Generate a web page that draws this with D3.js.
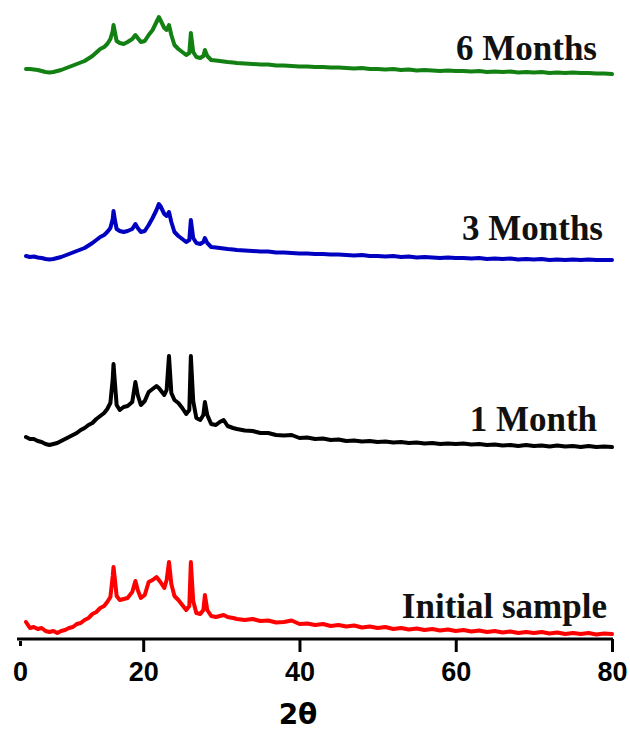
<!DOCTYPE html>
<html>
<head>
<meta charset="utf-8">
<script src="https://cdn.jsdelivr.net/npm/d3@7"></script>
<style>
  html, body { margin: 0; padding: 0; background: #ffffff; }
  svg { display: block; }
</style>
</head>
<body>
<svg id="chart" width="630" height="733"></svg>
<script>
// ---- data ----
const twoTheta = [5,5.5,6,6.5,7,7.5,8,8.5,9,9.5,10,10.5,11,11.5,12,12.5,13,13.5,14,14.5,15,
  15.4,15.8,16.1,16.2,16.4,16.6,17.0,17.5,18.0,18.6,
  19.0,19.3,19.7,20.2,20.7,21.2,21.7,22.0,22.2,22.7,
  23.0,23.3,23.6,24.0,24.5,25.0,25.5,25.9,26.1,26.4,
  26.8,27.3,27.7,27.9,28.2,28.7,29.3,29.8,30.3,30.8,
  31.5,
  32,33,34,35,36,37,38,39,40,41,42,43,44,45,46,47,48,49,50,51,52,53,54,55,56,57,58,59,60,
  61,62,63,64,65,66,67,68,69,70,71,72,73,74,75,76,77,78,79,80];

const initialSample = [34,22,24,20,22,16,14,16,12,16,18,22,24,30,32,38,42,50,54,62,66,
  74,84,126,144,116,86,78,80,82,94,
  116,98,82,88,114,118,124,118,114,102,
  118,154,110,86,78,68,58,66,154,76,
  52,50,58,88,58,46,44,46,48,44,
  42,
  40,38,40,36,37,33,34,37,30,31,28,30,26,28,25,27,23,25,22,24,20,22,19,21,18,20,17,19,16,18,
  15,17,14,16,13,15,12,14,12,14,11,13,10,12,10,12,9,11,10];

const oneMonth = [44,40,40,36,34,30,28,30,32,36,40,44,48,52,58,62,68,72,80,86,92,
  100,112,160,190,148,108,98,104,106,114,
  154,128,108,116,134,140,146,142,138,128,
  138,206,132,118,112,102,90,98,206,116,
  82,78,88,114,88,70,68,74,78,66,
  62,
  60,57,56,52,52,48,47,48,42,43,40,41,38,39,36,37,35,36,34,35,33,34,32,33,31,32,30,31,30,31,
  29,30,28,29,27,28,26,28,26,27,25,27,25,26,24,26,24,25,24];

const threeMonths = [26,24,25,23,22,20,19,20,22,24,27,30,33,36,39,42,47,52,58,64,68,
  74,82,100,116,96,80,76,74,76,80,
  90,82,74,76,88,102,118,130,126,110,
  106,114,94,74,66,60,54,58,98,62,
  52,50,54,62,52,44,43,42,41,40,
  39,
  38,37,36,35,35,33,33,32,31,31,30,30,29,29,28,27,28,26,26,25,26,24,25,23,24,23,22,23,22,22,
  21,22,20,21,20,21,19,20,19,20,18,19,18,19,18,19,18,18,18];

const sixMonths = [30,30,29,28,26,24,23,24,26,28,31,34,37,40,43,46,51,56,63,70,74,
  80,90,106,118,102,86,82,80,84,90,
  98,92,84,86,98,108,124,134,128,112,
  108,118,98,78,70,64,58,62,102,64,
  54,52,56,68,56,48,47,46,45,44,
  43,
  42,41,40,39,39,37,37,36,35,35,34,34,33,33,32,31,32,30,30,29,30,28,29,27,28,27,26,27,26,26,
  25,26,24,25,24,25,23,24,23,24,22,23,22,23,22,22,21,21,20];

const seriesNames = ["Initial sample", "1 Month", "3 Months", "6 Months"];
const seriesValues = [initialSample, oneMonth, threeMonths, sixMonths];
const seriesOffsets = [0, 360, 740, 1110];
const seriesColors = ["#ff0000", "#000000", "#0000c0", "#128012"];
const xTicks = [0, 20, 40, 60, 80];
const xTitle = "2\u03b8";

// ---- layout ----
const svg = d3.select("#chart");
const axisY = 639;
const x = d3.scaleLinear().domain([0, 5, 80]).range([20, 26, 612]);
const y = d3.scaleLinear().domain([0, 1278]).range([axisY, 0]);

const line = d3.line()
  .x(d => x(d[0]))
  .y(d => y(d[1]));

seriesValues.forEach((vals, i) => {
  const pts = twoTheta.map((t, k) => [t, vals[k] + seriesOffsets[i]]);
  svg.append("path")
    .datum(pts)
    .attr("fill", "none")
    .attr("stroke", seriesColors[i])
    .attr("stroke-width", 4)
    .attr("stroke-linejoin", "round")
    .attr("stroke-linecap", "round")
    .attr("d", line);
});

// labels
const labelPos = [[607, 618], [597, 431], [603, 240], [597, 60]];
seriesNames.forEach((name, i) => {
  svg.append("text")
    .attr("x", labelPos[i][0])
    .attr("y", labelPos[i][1])
    .attr("text-anchor", "end")
    .attr("font-family", "'Liberation Serif', 'Times New Roman', serif")
    .attr("font-weight", "bold")
    .attr("font-size", 35)
    .attr("fill", "#111")
    .text(name);
});

// x axis
const axis = d3.axisBottom(x)
  .tickValues(xTicks)
  .tickFormat(d3.format("d"))
  .tickSize(13)
  .tickSizeOuter(0)
  .tickPadding(10);

const gx = svg.append("g")
  .attr("transform", `translate(0,${axisY})`)
  .call(axis);
gx.select(".domain")
  .attr("stroke", "#000")
  .attr("stroke-width", 3)
  .attr("d", `M17,0H613`);
gx.selectAll(".tick line").attr("stroke", "#000").attr("stroke-width", 3);
gx.selectAll(".tick line").filter(d => d === 0).attr("y1", 2).attr("y2", 7);
gx.selectAll(".tick text")
  .attr("font-family", "'Liberation Sans', Arial, sans-serif")
  .attr("font-weight", "bold")
  .attr("font-size", 27)
  .attr("fill", "#000");

svg.append("text")
  .attr("x", 298)
  .attr("y", 724)
  .attr("text-anchor", "middle")
  .attr("font-family", "'DejaVu Sans', 'Liberation Sans', Arial, sans-serif")
  .attr("font-weight", "bold")
  .attr("font-size", 28)
  .attr("fill", "#000")
  .text(xTitle);
</script>
</body>
</html>
